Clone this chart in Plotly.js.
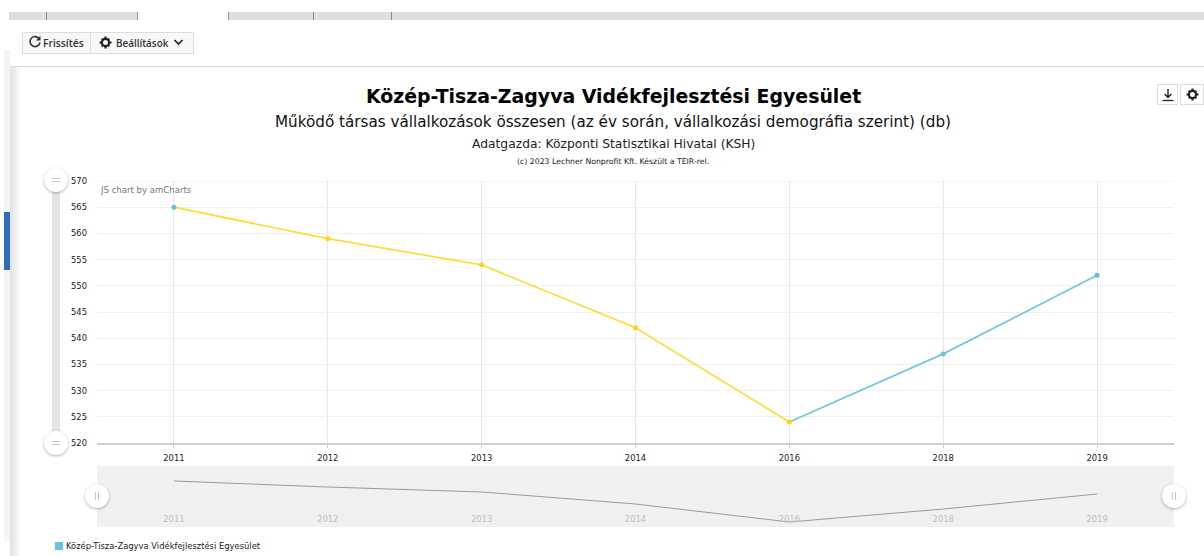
<!DOCTYPE html>
<html><head><meta charset="utf-8">
<script src="https://cdn.plot.ly/plotly-3.0.1.min.js"></script>
<style>
html,body{margin:0;padding:0;background:#fff;width:1204px;height:556px;overflow:hidden;font-family:"DejaVu Sans",sans-serif}
#chart{position:absolute;left:0;top:0;width:1204px;height:556px}
.c{position:absolute;box-sizing:border-box}
.h{position:absolute;width:24px;height:24px;border-radius:50%;background:#fff;box-shadow:0 1px 3px rgba(0,0,0,.3)}
.btn{position:absolute;box-sizing:border-box;height:22px;top:32px;background:#f8f8f8;border:1px solid #ddd;font-family:"Open Sans",sans-serif;font-weight:600;font-size:10.3px;color:#333;line-height:20px;white-space:nowrap}
.ib{position:absolute;box-sizing:border-box;top:84px;height:21px;background:#fff;border:1px solid #ddd}
svg{position:absolute}
</style></head><body>
<div id="chart"></div>
<div class="c" style="left:4px;top:50px;width:6px;height:491px;background:#f4f4f4"></div>
<div class="c" style="left:4px;top:212px;width:6px;height:58px;background:#2f6bc0"></div>
<div class="c" style="left:10px;top:67px;width:12px;height:489px;background:linear-gradient(to right,#e2e2e2,#fff)"></div>
<div class="c" style="left:9px;top:12px;width:1195px;height:8px;background:#dedede"></div>
<div class="c" style="left:138px;top:12px;width:90px;height:8px;background:#fff"></div>
<div class="c" style="left:46px;top:12px;width:1px;height:8px;background:#888"></div>
<div class="c" style="left:137px;top:12px;width:1px;height:8px;background:#999"></div>
<div class="c" style="left:228px;top:12px;width:1px;height:8px;background:#999"></div>
<div class="c" style="left:313px;top:12px;width:1px;height:8px;background:#888"></div>
<div class="c" style="left:391px;top:12px;width:1px;height:8px;background:#888"></div>
<div class="c" style="left:10px;top:66px;width:1194px;height:1px;background:#ddd"></div>
<div class="btn" style="left:22px;width:69px;padding-left:20px">Frissítés
<svg style="left:5px;top:2px" width="14" height="14" viewBox="0 0 14 14"><path d="M11.5 4.2A5 5 0 1 0 12 7.5" fill="none" stroke="#333" stroke-width="1.6"/><path d="M12.5 0.8V5.4H7.9Z" fill="#333"/></svg></div>
<div class="btn" style="left:90px;width:104px;padding-left:25px;font-size:9.9px">Beállítások
<svg style="left:8px;top:3px" width="13" height="13" viewBox="0 0 13 13"><circle cx="6.5" cy="6.5" r="3.6" fill="none" stroke="#222" stroke-width="2.2"/><path d="M5.4 0.5h2.2v2h-2.2zM5.4 10.5h2.2v2h-2.2zM0.5 5.4h2v2.2h-2zM10.5 5.4h2v2.2h-2zM2 3.3l1.3-1.3 1.3 1.3-1.3 1.3zM8.4 9.7l1.3-1.3 1.3 1.3-1.3 1.3zM2 9.7l1.3-1.3 1.3 1.3-1.3 1.3zM8.4 3.3l1.3-1.3 1.3 1.3-1.3 1.3z" fill="#222"/></svg>
<svg style="left:82px;top:5px" width="11" height="9" viewBox="0 0 11 9"><path d="M1.5 2l4 4 4-4" fill="none" stroke="#222" stroke-width="1.7"/></svg></div>
<div class="ib" style="left:1157px;width:21px"><svg style="left:4px;top:3px" width="12" height="14" viewBox="0 0 12 14"><path d="M6 1v8M2.6 6L6 9.6 9.4 6" fill="none" stroke="#222" stroke-width="1.4"/><path d="M0.5 12.5h11" stroke="#222" stroke-width="1.3"/></svg></div>
<div class="ib" style="left:1180px;width:24px"><svg style="left:5px;top:3px" width="13" height="13" viewBox="0 0 13 13"><circle cx="6.5" cy="6.5" r="3.6" fill="none" stroke="#222" stroke-width="2.2"/><path d="M5.4 0.5h2.2v2h-2.2zM5.4 10.5h2.2v2h-2.2zM0.5 5.4h2v2.2h-2zM10.5 5.4h2v2.2h-2zM2 3.3l1.3-1.3 1.3 1.3-1.3 1.3zM8.4 9.7l1.3-1.3 1.3 1.3-1.3 1.3zM2 9.7l1.3-1.3 1.3 1.3-1.3 1.3zM8.4 3.3l1.3-1.3 1.3 1.3-1.3 1.3z" fill="#222"/></svg></div>
<div class="c" style="left:52px;top:181px;width:8px;height:262px;background:#e4e4e4"></div>
<div class="h" style="left:44px;top:168px"><svg width="24" height="24"><path d="M7.5 10.5h9M7.5 13.5h9" stroke="#c8c8c8" stroke-width="1"/></svg></div>
<div class="h" style="left:44px;top:431px"><svg width="24" height="24"><path d="M7.5 10.5h9M7.5 13.5h9" stroke="#c8c8c8" stroke-width="1"/></svg></div>
<div class="h" style="left:85px;top:484px"><svg width="24" height="24"><path d="M10.5 8v8M13.5 8v8" stroke="#c8c8c8" stroke-width="1"/></svg></div>
<div class="h" style="left:1162px;top:484px"><svg width="24" height="24"><path d="M10.5 8v8M13.5 8v8" stroke="#c8c8c8" stroke-width="1"/></svg></div>
<script>
var years=['2011','2012','2013','2014','2016','2018','2019'];
var values=[565,559,554,542,524,537,552];
var fallingValues=[565,559,554,542,524,null,null];
var risingValues=[null,null,null,null,524,537,552];
var pointColors=['#5fc0dc','#ffd21f','#ffd21f','#ffd21f','#ffd21f','#6cc5de','#5fc0dc'];
var seriesName='Közép-Tisza-Zagyva Vidékfejlesztési Egyesület';
var W=1204,H=556;
function px(x){return x/W;} function py(y){return 1-y/H;}
var F='"DejaVu Sans",sans-serif';
var traces=[
 {x:years,y:fallingValues,mode:'lines',line:{color:'#ffdc3c',width:1.8},hoverinfo:'skip',showlegend:false,xaxis:'x',yaxis:'y'},
 {x:years,y:risingValues,mode:'lines',line:{color:'#74c7e0',width:1.8},hoverinfo:'skip',showlegend:false,xaxis:'x',yaxis:'y'},
 {x:years,y:values,mode:'markers',marker:{color:pointColors,size:5},name:seriesName,showlegend:false,xaxis:'x',yaxis:'y'},
 {x:years,y:values,mode:'lines',line:{color:'#999',width:1},hoverinfo:'skip',showlegend:false,xaxis:'x2',yaxis:'y2'}
];
function note(t,x,y,size,color,bold,anchor){return {text:bold?'<b>'+t+'</b>':t,xref:'paper',yref:'paper',x:px(x),y:py(y),xanchor:anchor||'center',yanchor:'middle',showarrow:false,font:{family:F,size:size,color:color}};}
var layout={width:W,height:H,margin:{l:0,r:0,t:0,b:0},paper_bgcolor:'rgba(0,0,0,0)',plot_bgcolor:'rgba(0,0,0,0)',showlegend:false,
 xaxis:{domain:[px(97),px(1174)],anchor:'y',type:'category',range:[-0.5,6.5],showgrid:true,gridcolor:'#e6e6e6',gridwidth:1,showline:true,linecolor:'#d0d0d0',linewidth:2,ticks:'outside',ticklen:3,tickcolor:'#d0d0d0',ticklabelstandoff:3,tickfont:{family:F,size:8.4,color:'#222'},zeroline:false,fixedrange:true},
 yaxis:{domain:[py(443),py(181)],anchor:'x',range:[520,570],dtick:5,tick0:520,showgrid:true,gridcolor:'#efefef',gridwidth:1,showline:false,ticks:'',ticklabelstandoff:9,tickfont:{family:F,size:8.4,color:'#222'},zeroline:false,fixedrange:true},
 xaxis2:{domain:[px(97),px(1174)],anchor:'y2',type:'category',range:[-0.5,6.5],showgrid:false,showline:false,ticks:'',ticklabelposition:'inside',tickfont:{family:F,size:8.4,color:'#bdbdbd'},zeroline:false,fixedrange:true},
 yaxis2:{domain:[py(527),py(466)],anchor:'x2',range:[519,580],showgrid:false,showline:false,showticklabels:false,ticks:'',zeroline:false,fixedrange:true},
 shapes:[
  {type:'rect',xref:'paper',yref:'paper',x0:px(97),x1:px(1174),y0:py(527),y1:py(466),fillcolor:'#f0f0f0',line:{width:0},layer:'below'},
  {type:'line',xref:'paper',yref:'y',x0:px(97),x1:px(1174),y0:570,y1:570,line:{color:'#efefef',width:1},layer:'below'},
  {type:'rect',xref:'paper',yref:'paper',x0:px(55),x1:px(63),y0:py(550),y1:py(542),fillcolor:'#66c2de',line:{width:0}}
 ],
 annotations:[
  note(seriesName,613,96,18.9,'#000',true),
  note('Működő társas vállalkozások összesen (az év során, vállalkozási demográfia szerint) (db)',613,122,15.2,'#111',false),
  note('Adatgazda: Központi Statisztikai Hivatal (KSH)',613,144,12.3,'#222',false),
  note('(c) 2023 Lechner Nonprofit Kft. Készült a TEIR-rel.',613,161,7.75,'#222',false),
  note('JS chart by amCharts',98,190,8.55,'#777',false,'left'),
  note(seriesName,64,546,8.4,'#222',false,'left')
 ]};
Plotly.newPlot('chart',traces,layout,{displayModeBar:false,staticPlot:true});
</script>
</body></html>
